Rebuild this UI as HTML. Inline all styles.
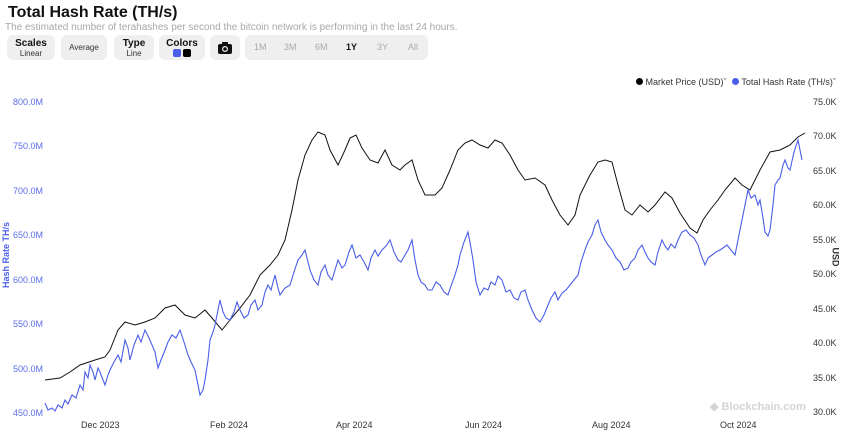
<!DOCTYPE html>
<html><head><meta charset="utf-8"><style>
body{margin:0;width:850px;height:439px;background:#fff;font-family:"Liberation Sans",sans-serif;overflow:hidden;position:relative}
.t{position:absolute;left:8px;top:4px;font-size:16px;font-weight:bold;color:#111}
.s{position:absolute;left:5px;top:22px;font-size:10px;color:#a8a8a8}
.b{position:absolute;top:35px;height:25px;background:#efefef;border-radius:6px;text-align:center;font-size:8px;color:#333}
.b b{display:block;font-size:10px;color:#111;margin-top:3px}
.r{position:absolute;font-size:9px;color:#333}
.l{position:absolute;font-size:9px;color:#5b6ee8}
.x{position:absolute;top:420px;font-size:9px;color:#333}
</style></head><body>
<div class="t">Total Hash Rate (TH/s)</div>
<div class="s">The estimated number of terahashes per second the bitcoin network is performing in the last 24 hours.</div>
<div class="b" style="left:7px;width:48px"><b>Scales</b>Linear</div>
<div class="b" style="left:61px;width:46px;line-height:25px">Average</div>
<div class="b" style="left:114px;width:40px"><b>Type</b>Line</div>
<div class="b" style="left:159px;width:46px"><b>Colors</b><span style="display:inline-block;width:8px;height:8px;background:#4a5ee8;border-radius:2px"></span> <span style="display:inline-block;width:8px;height:8px;background:#000;border-radius:2px"></span></div>
<div class="b" style="left:210px;width:30px"><svg width="14" height="12" style="margin-top:7px" viewBox="0 0 14 12"><rect x="0" y="2" width="14" height="10" rx="2" fill="#111"/><rect x="4" y="0" width="6" height="3" fill="#111"/><circle cx="7" cy="7" r="3" fill="#efefef"/><circle cx="7" cy="7" r="1.8" fill="#111"/></svg></div>
<div class="b" style="left:245px;width:183px;line-height:25px;font-size:9px;color:#aaa;word-spacing:0">
<span style="position:absolute;left:9px">1M</span><span style="position:absolute;left:39px">3M</span><span style="position:absolute;left:70px">6M</span><span style="position:absolute;left:101px;color:#111;font-weight:bold">1Y</span><span style="position:absolute;left:132px">3Y</span><span style="position:absolute;left:163px">All</span></div>
<div class="r" style="left:636px;top:77px"><span style="display:inline-block;width:7px;height:7px;border-radius:50%;background:#000"></span> Market Price (USD)&#711;</div>
<div class="r" style="left:732px;top:77px"><span style="display:inline-block;width:7px;height:7px;border-radius:50%;background:#4a5ee8"></span> Total Hash Rate (TH/s)&#711;</div>
<div class="l" style="left:13px;top:97px">800.0M</div>
<div class="l" style="left:13px;top:141px">750.0M</div>
<div class="l" style="left:13px;top:186px">700.0M</div>
<div class="l" style="left:13px;top:230px">650.0M</div>
<div class="l" style="left:13px;top:275px">600.0M</div>
<div class="l" style="left:13px;top:319px">550.0M</div>
<div class="l" style="left:13px;top:364px">500.0M</div>
<div class="l" style="left:13px;top:408px">450.0M</div>
<div style="position:absolute;left:-34px;top:250px;transform:rotate(-90deg);font-size:9px;font-weight:bold;color:#4a5ee8;width:80px;text-align:center">Hash Rate TH/s</div>
<div class="r" style="left:813px;top:97px">75.0K</div>
<div class="r" style="left:813px;top:131px">70.0K</div>
<div class="r" style="left:813px;top:166px">65.0K</div>
<div class="r" style="left:813px;top:200px">60.0K</div>
<div class="r" style="left:813px;top:235px">55.0K</div>
<div class="r" style="left:813px;top:269px">50.0K</div>
<div class="r" style="left:813px;top:304px">45.0K</div>
<div class="r" style="left:813px;top:338px">40.0K</div>
<div class="r" style="left:813px;top:373px">35.0K</div>
<div class="r" style="left:813px;top:407px">30.0K</div>
<div style="position:absolute;left:826px;top:252px;transform:rotate(90deg);font-size:9px;font-weight:bold;color:#333">USD</div>
<div class="x" style="left:81px">Dec 2023</div>
<div class="x" style="left:210px">Feb 2024</div>
<div class="x" style="left:336px">Apr 2024</div>
<div class="x" style="left:465px">Jun 2024</div>
<div class="x" style="left:592px">Aug 2024</div>
<div class="x" style="left:720px">Oct 2024</div>
<div style="position:absolute;left:710px;top:400px;font-size:11px;font-weight:bold;color:#d4d4d4">&#9670; Blockchain.com</div>
<svg width="850" height="439" style="position:absolute;left:0;top:0">
<polyline fill="none" stroke="#111" stroke-width="1" points="45,380 60,378 70,372 80,365 95,360 105,357 110,350 118,330 125,322 135,325 145,322 155,318 165,308 175,305 185,315 195,318 205,310 212,318 222,330 230,320 240,308 250,295 260,275 270,265 278,255 285,240 292,210 298,180 305,155 312,140 318,132 325,135 330,150 338,165 345,150 350,138 356,135 362,148 370,160 378,163 385,150 392,165 400,170 405,165 412,160 418,180 425,195 435,195 442,188 450,170 458,150 465,143 472,140 480,145 488,148 495,140 502,143 510,155 518,170 525,180 535,178 545,185 552,200 560,215 568,225 575,215 580,195 590,175 598,162 605,160 612,162 618,185 625,210 632,215 640,205 648,212 655,205 665,192 672,198 680,213 690,228 697,233 703,220 710,210 718,200 725,190 735,178 742,185 750,190 760,170 770,152 780,150 790,145 798,137 805,133"/>
<polyline fill="none" stroke="#4a5ee8" stroke-width="1.1" points="45,403 48,410 52,408 55,411 58,405 62,408 65,400 68,404 72,395 76,398 80,385 83,390 85,372 88,378 90,365 93,372 95,380 98,368 100,372 103,380 105,385 108,375 110,370 114,362 118,355 121,362 125,340 128,348 130,360 134,345 138,335 141,342 145,330 149,338 152,345 155,352 158,368 161,360 165,350 168,342 172,335 176,338 180,330 184,342 188,355 191,362 195,370 198,385 200,395 203,390 205,380 208,360 210,340 213,332 215,325 218,310 220,300 223,312 226,318 230,320 234,312 237,302 240,310 244,318 248,315 251,305 255,300 258,310 262,305 265,292 268,285 271,290 275,275 278,288 280,295 285,288 290,285 294,272 298,260 302,255 305,250 308,262 310,270 314,280 318,285 321,272 325,265 328,275 332,280 335,270 338,260 342,268 345,265 349,252 352,245 356,258 360,255 364,262 368,270 371,258 375,250 378,256 382,250 386,246 390,240 394,252 398,260 401,262 405,255 408,250 412,240 415,260 418,275 421,282 425,285 428,290 432,290 436,282 440,285 444,292 448,295 451,286 455,275 458,265 460,255 464,242 468,232 471,248 473,260 476,282 480,295 484,288 488,290 491,282 495,285 498,276 502,280 506,292 510,290 514,298 518,300 521,292 525,290 528,300 532,310 536,318 540,322 544,315 548,305 551,298 555,292 558,300 562,293 566,290 570,285 574,280 578,275 581,262 585,250 588,242 592,235 595,225 598,220 601,232 605,240 608,245 612,250 616,258 620,262 624,270 628,268 631,262 635,258 638,250 642,245 645,252 648,258 651,262 655,265 658,252 662,240 665,246 668,250 671,244 675,248 678,240 682,232 686,230 690,235 694,238 698,245 701,255 705,265 708,258 712,255 716,252 720,250 723,248 727,245 731,250 735,255 738,240 742,220 745,205 748,190 751,198 755,195 758,205 760,200 763,218 765,232 768,236 770,230 773,205 775,185 778,180 780,178 783,165 785,160 788,168 790,170 794,152 798,140 800,150 802,160"/>
</svg>
</body></html>
